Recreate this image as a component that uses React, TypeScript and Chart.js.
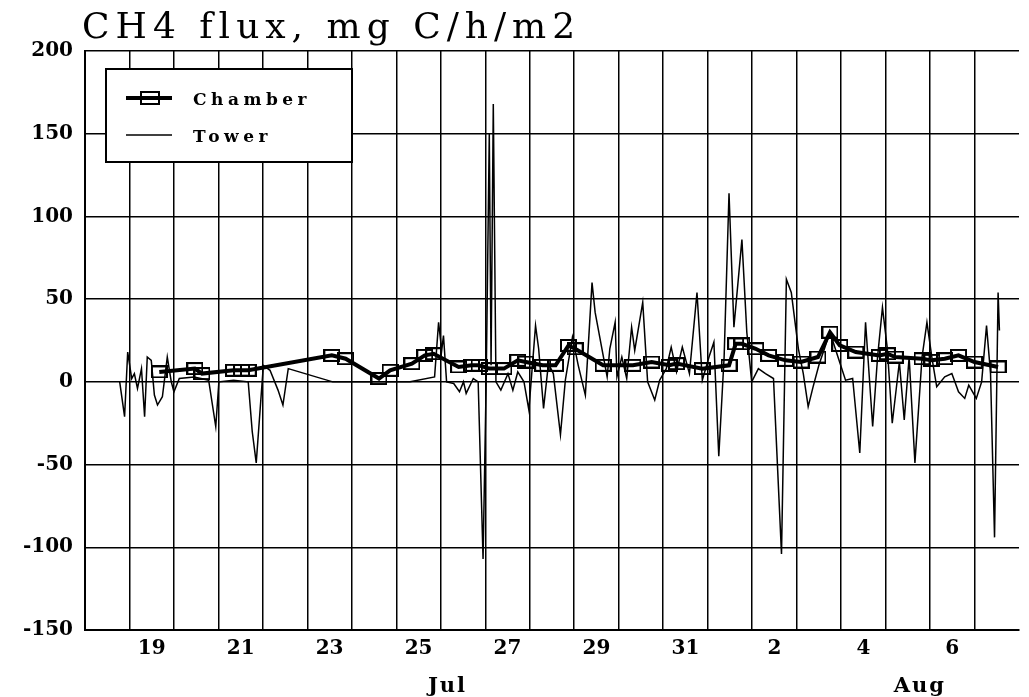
import React, { useEffect, useRef } from 'react';
import { Chart, registerables } from 'chart.js';

Chart.register(...registerables);

// ---- text ----
const TITLE = 'CH4 flux, mg C/h/m2';
const SERIES_NAMES = ['Chamber', 'Tower'];
const MONTH_LABELS = ['Jul', 'Aug'];
const MONTH_LABEL_DAYS = [26.15, 36.77];

// ---- axes (x = days counted from Jun 30: Jul 18 = 18, Aug 1 = 32) ----
const X_MIN = 18;
const X_MAX = 39;
const Y_MIN = -150;
const Y_MAX = 200;
const Y_STEP = 50;
const X_TICK_DAYS = [19, 21, 23, 25, 27, 29, 31, 33, 35, 37];
const X_TICK_LABELS = ['19', '21', '23', '25', '27', '29', '31', '2', '4', '6'];

// ---- Chamber series ----
const chamberDays = [
  19.67, 20.47, 20.63, 21.34, 21.52, 21.67, 23.55, 23.86, 24.61, 24.86,
  25.35, 25.64, 25.84, 26.4, 26.69, 26.86, 27.09, 27.42, 27.73, 27.91,
  28.29, 28.58, 28.87, 29.02, 29.65, 30.32, 30.74, 31.14, 31.3, 31.88,
  32.48, 32.63, 32.77, 33.08, 33.37, 33.75, 34.1, 34.48, 34.75, 34.97,
  35.33, 35.86, 36.04, 36.22, 36.82, 37.04, 37.33, 37.64, 38.0, 38.53,
];
const chamberFlux = [
  6, 8, 5, 7, 7, 7, 16, 14, 2, 7,
  11, 16, 17, 9, 10, 10, 8, 8, 13, 12,
  10, 10, 22, 20, 10, 10, 12, 10, 11, 8,
  10, 23, 23, 20, 16, 13, 12, 15, 30, 22,
  18, 16, 17, 15, 14, 13, 14, 16, 12, 9,
];

// ---- Tower series ----
const towerDays = [
  18.78, 18.89, 18.96, 19.05, 19.11, 19.18, 19.27, 19.34, 19.4, 19.49,
  19.56, 19.63, 19.74, 19.85, 19.94, 20.0, 20.12, 20.45, 20.78, 20.94,
  21.01, 21.34, 21.67, 21.76, 21.85, 22.01, 22.16, 22.34, 22.45, 22.57,
  23.57, 25.31, 25.86, 25.95, 26.02, 26.06, 26.13, 26.29, 26.42, 26.51,
  26.57, 26.73, 26.84, 26.95, 27.02, 27.09, 27.13, 27.18, 27.24, 27.35,
  27.51, 27.62, 27.73, 27.87, 27.98, 28.13, 28.2, 28.31, 28.42, 28.53,
  28.69, 28.8, 28.96, 29.09, 29.25, 29.4, 29.47, 29.65, 29.74, 29.8,
  29.92, 29.96, 30.07, 30.18, 30.29, 30.36, 30.54, 30.65, 30.81, 30.92,
  31.07, 31.18, 31.3, 31.43, 31.59, 31.76, 31.88, 32.03, 32.14, 32.25,
  32.37, 32.48, 32.59, 32.77, 32.88, 32.99, 33.14, 33.3, 33.48, 33.66,
  33.77, 33.88, 34.04, 34.15, 34.26, 34.37, 34.5, 34.75, 34.93, 35.1,
  35.26, 35.42, 35.55, 35.71, 35.82, 35.93, 36.04, 36.15, 36.31, 36.42,
  36.53, 36.66, 36.82, 36.93, 37.04, 37.15, 37.33, 37.49, 37.64, 37.78,
  37.87, 38.04, 38.16, 38.27, 38.36, 38.45, 38.53, 38.56,
];
const towerFlux = [
  0, -21, 18, 2, 5, -4, 8, -21, 15, 13,
  -8, -14, -9, 15, 0, -6, 2, 3, 1, -27,
  0, 1, 0, -30, -49, 10, 7, -5, -14, 8,
  0, 0, 3, 36, 19, 28, 0, -1, -6, 0,
  -7, 2, 0, -107, 0, 150, 10, 168, 0, -5,
  5, -5, 6, 0, -17, 34, 20, -16, 11, 5,
  -32, 1, 27, 10, -8, 60, 42, 16, 3, 20,
  36, 3, 15, 2, 33, 19, 48, 0, -11, 1,
  8, 21, 6, 21, 5, 54, 1, 15, 24, -45,
  15, 114, 33, 86, 30, 0, 8, 5, 2, -104,
  62, 54, 20, 5, -15, -3, 10, 30, 15, 1,
  2, -43, 36, -27, 15, 45, 20, -25, 12, -23,
  15, -49, 15, 36, 15, -3, 3, 5, -6, -10,
  -2, -10, 0, 34, 5, -94, 54, 31,
];

const FONT = '"DejaVu Serif", serif';

function xTickLabel(v: number): string {
  for (let i = 0; i < X_TICK_DAYS.length; i++) {
    if (Math.abs(X_TICK_DAYS[i] + 0.5 - v) < 1e-6) return X_TICK_LABELS[i];
  }
  return '';
}

function makeSquare(w: number, h: number): HTMLCanvasElement {
  const c = document.createElement('canvas');
  c.width = w;
  c.height = h;
  const g = c.getContext('2d')!;
  g.strokeStyle = '#000';
  g.lineWidth = 2;
  g.strokeRect(1, 1, w - 2, h - 2);
  return c;
}

const decorPlugin = {
  id: 'decor',
  afterDraw(chart: any) {
    const ctx = chart.ctx as CanvasRenderingContext2D;
    const xs = chart.scales.x;
    ctx.save();
    ctx.fillStyle = '#000';
    ctx.strokeStyle = '#000';
    ctx.textAlign = 'left';
    ctx.textBaseline = 'alphabetic';

    // title
    ctx.font = `36px ${FONT}`;
    (ctx as any).letterSpacing = '6px';
    ctx.fillText(TITLE, 82, 38);

    // legend box
    const bx = 106, by = 69, bw = 246, bh = 93;
    ctx.fillStyle = '#fff';
    ctx.fillRect(bx, by, bw, bh);
    ctx.lineWidth = 2;
    ctx.strokeRect(bx, by, bw, bh);
    ctx.fillStyle = '#000';
    // chamber sample
    ctx.lineWidth = 4;
    ctx.beginPath();
    ctx.moveTo(126, 98);
    ctx.lineTo(172, 98);
    ctx.stroke();
    ctx.lineWidth = 2;
    ctx.strokeRect(141, 92, 18, 12);
    // tower sample
    ctx.lineWidth = 1.5;
    ctx.beginPath();
    ctx.moveTo(126, 135);
    ctx.lineTo(172, 135);
    ctx.stroke();
    ctx.font = `bold 17px ${FONT}`;
    (ctx as any).letterSpacing = '4.5px';
    ctx.fillText(SERIES_NAMES[0], 193, 105);
    ctx.fillText(SERIES_NAMES[1], 193, 142);

    // month labels
    ctx.font = `bold 21px ${FONT}`;
    (ctx as any).letterSpacing = '2px';
    ctx.textAlign = 'center';
    for (let i = 0; i < MONTH_LABELS.length; i++) {
      ctx.fillText(MONTH_LABELS[i], xs.getPixelForValue(MONTH_LABEL_DAYS[i]), 692);
    }
    ctx.restore();
  },
};

export default function App() {
  const ref = useRef<HTMLCanvasElement | null>(null);

  useEffect(() => {
    if (!ref.current) return;
    const square = makeSquare(17, 13);
    const chart = new Chart(ref.current, {
      type: 'line',
      data: {
        datasets: [
          {
            label: SERIES_NAMES[0],
            data: chamberDays.map((d, i) => ({ x: d, y: chamberFlux[i] })),
            borderColor: '#000',
            borderWidth: 4,
            pointStyle: square as any,
            pointRadius: 6,
            fill: false,
            tension: 0,
          },
          {
            label: SERIES_NAMES[1],
            data: towerDays.map((d, i) => ({ x: d, y: towerFlux[i] })),
            borderColor: '#000',
            borderWidth: 1.5,
            pointRadius: 0,
            fill: false,
            tension: 0,
          },
        ],
      },
      options: {
        responsive: false,
        animation: false,
        layout: { padding: { top: 51, left: 0, right: 0, bottom: 0 } },
        plugins: {
          legend: { display: false },
          tooltip: { enabled: false },
          title: { display: false },
        },
        scales: {
          x: {
            type: 'linear',
            min: X_MIN,
            max: X_MAX,
            afterBuildTicks: (scale: any) => {
              const t: { value: number }[] = [];
              for (let v = X_MIN; v <= X_MAX; v += 0.5) t.push({ value: v });
              scale.ticks = t;
            },
            afterFit: (scale: any) => {
              scale.height = 67;
            },
            grid: {
              color: (c: any) =>
                c.tick && Number.isInteger(c.tick.value) && c.tick.value !== X_MAX
                  ? '#000'
                  : 'rgba(0,0,0,0)',
              lineWidth: 1.5,
              drawTicks: false,
            },
            border: { display: true, color: '#000', width: 2 },
            ticks: {
              autoSkip: false,
              maxRotation: 0,
              minRotation: 0,
              padding: 7,
              color: '#000',
              font: { family: FONT, size: 20, weight: 'bold' },
              callback: (v: any) => xTickLabel(Number(v)),
            },
          },
          y: {
            min: Y_MIN,
            max: Y_MAX,
            afterFit: (scale: any) => {
              scale.width = 85;
            },
            grid: { color: '#000', lineWidth: 1.5, drawTicks: false },
            border: { display: true, color: '#000', width: 2 },
            ticks: {
              stepSize: Y_STEP,
              padding: 12,
              color: '#000',
              font: { family: FONT, size: 20, weight: 'bold' },
            },
          },
        },
      },
      plugins: [decorPlugin],
    } as any);
    return () => chart.destroy();
  }, []);

  return (
    <div
      style={{
        position: 'absolute',
        left: 0,
        top: 0,
        width: 1029,
        height: 697,
        background: '#fff',
        overflow: 'hidden',
      }}
    >
      <canvas ref={ref} width={1029} height={697} style={{ display: 'block' }} />
    </div>
  );
}
